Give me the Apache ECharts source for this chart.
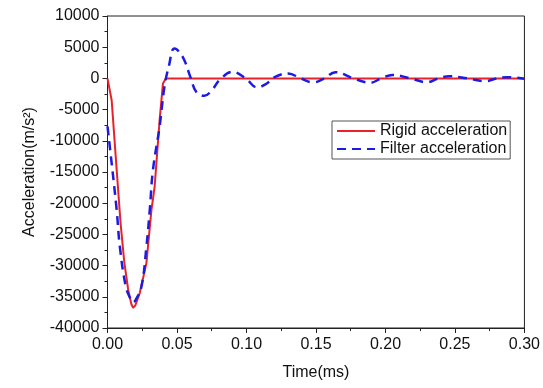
<!DOCTYPE html>
<html>
<head>
<meta charset="utf-8">
<script src="https://cdn.jsdelivr.net/npm/echarts@6/dist/echarts.min.js"></script>
<style>
  html, body { margin: 0; padding: 0; background: #fff; }
  #chart { width: 543px; height: 388px; }
</style>
</head>
<body>
<div id="chart"></div>
<script>
// values
const rigidTime = [0, 0.003, 0.0061, 0.0094, 0.0121, 0.0149, 0.0172, 0.0184, 0.0200, 0.0232, 0.028, 0.0316, 0.0339, 0.0375, 0.0399, 0.042, 0.30];
const rigidAccel = [0, -3500, -13100, -23200, -29500, -33900, -36200, -36750, -36400, -34400, -29600, -21100, -17400, -6700, -800, 0, 0];

const filterTime = [0, 0.003, 0.0066, 0.0089, 0.0132, 0.0165, 0.0184, 0.020, 0.0244, 0.028, 0.0304, 0.0327, 0.0375, 0.041, 0.0441, 0.0482,
  0.054, 0.060, 0.0637, 0.0696, 0.0755, 0.0804, 0.090, 0.0994, 0.1077, 0.114, 0.121, 0.130, 0.139, 0.148, 0.156, 0.164, 0.177,
  0.189, 0.197, 0.205, 0.218, 0.230, 0.238, 0.246, 0.259, 0.272, 0.280, 0.287, 0.30];
const filterAccel = [-7700, -13600, -21100, -27000, -33400, -35300, -35900, -35600, -33400, -27000, -21100, -14700, -7700, -1300, 1900, 4800,
  3500, 0, -2100, -2800, -1800, -300, 1050, 0, -1450, -900, 300, 800, 0, -650, 0, 1000, 0,
  -700, 0, 550, 0, -620, 0, 350, 0, -450, 0, 200, -50];

const seriesNames = ['Rigid acceleration', 'Filter acceleration'];

const xTicks = { min: 0, max: 0.3, interval: 0.05 };
const yTicks = { min: -40000, max: 10000, interval: 5000 };

const pairs = (xs, ys) => xs.map((x, i) => [x, ys[i]]);

const chart = echarts.init(document.getElementById('chart'), null, { renderer: 'canvas' });
const font = 'Liberation Sans, Arial, sans-serif';
const axisColor = '#222';

chart.setOption({
  animation: false,
  backgroundColor: '#fff',
  textStyle: { fontFamily: font },
  grid: {
    left: 107.5, right: 16, top: 16, bottom: 60,
    show: true, borderColor: axisColor, borderWidth: 1, backgroundColor: 'transparent'
  },
  legend: {
    data: seriesNames,
    orient: 'vertical',
    left: 332, top: 121,
    itemWidth: 38, itemHeight: 14, itemGap: 2,
    padding: [2, 3, 2, 4],
    borderColor: '#555', borderWidth: 1,
    itemStyle: { opacity: 0 },
    textStyle: { fontSize: 16, color: '#111', fontFamily: font }
  },
  xAxis: {
    type: 'value',
    min: xTicks.min, max: xTicks.max, interval: xTicks.interval,
    name: 'Time(ms)', nameLocation: 'middle', nameGap: 37,
    nameTextStyle: { fontSize: 16, color: '#111', fontFamily: font },
    axisLine: { onZero: false, lineStyle: { color: axisColor, width: 1 } },
    axisTick: { length: 5, lineStyle: { color: axisColor } },
    minorTick: { show: true, splitNumber: 2, length: 3, lineStyle: { color: axisColor } },
    splitLine: { show: false },
    axisLabel: { fontSize: 16, color: '#111', margin: 9, formatter: v => v.toFixed(2) }
  },
  yAxis: {
    type: 'value',
    min: yTicks.min, max: yTicks.max, interval: yTicks.interval,
    name: 'Acceleration(m/s²)', nameLocation: 'middle', nameGap: 70,
    nameTextStyle: { fontSize: 16, color: '#111', fontFamily: font },
    axisLine: { show: true, onZero: false, lineStyle: { color: axisColor, width: 1 } },
    axisTick: { show: true, length: 5, lineStyle: { color: axisColor } },
    minorTick: { show: true, splitNumber: 2, length: 3, lineStyle: { color: axisColor } },
    splitLine: { show: false },
    axisLabel: { fontSize: 16, color: '#111', margin: 8, formatter: v => String(v) }
  },
  series: [
    {
      name: seriesNames[0],
      type: 'line',
      data: pairs(rigidTime, rigidAccel),
      symbol: 'none',
      smooth: false,
      lineStyle: { color: '#e8222a', width: 2 },
      itemStyle: { color: '#e8222a' },
      z: 2
    },
    {
      name: seriesNames[1],
      type: 'line',
      data: pairs(filterTime, filterAccel),
      symbol: 'none',
      smooth: 0.4,
      lineStyle: { color: '#1c1ce0', width: 2.5, type: [9, 6] },
      itemStyle: { color: '#1c1ce0' },
      z: 3
    }
  ]
});
</script>
</body>
</html>
